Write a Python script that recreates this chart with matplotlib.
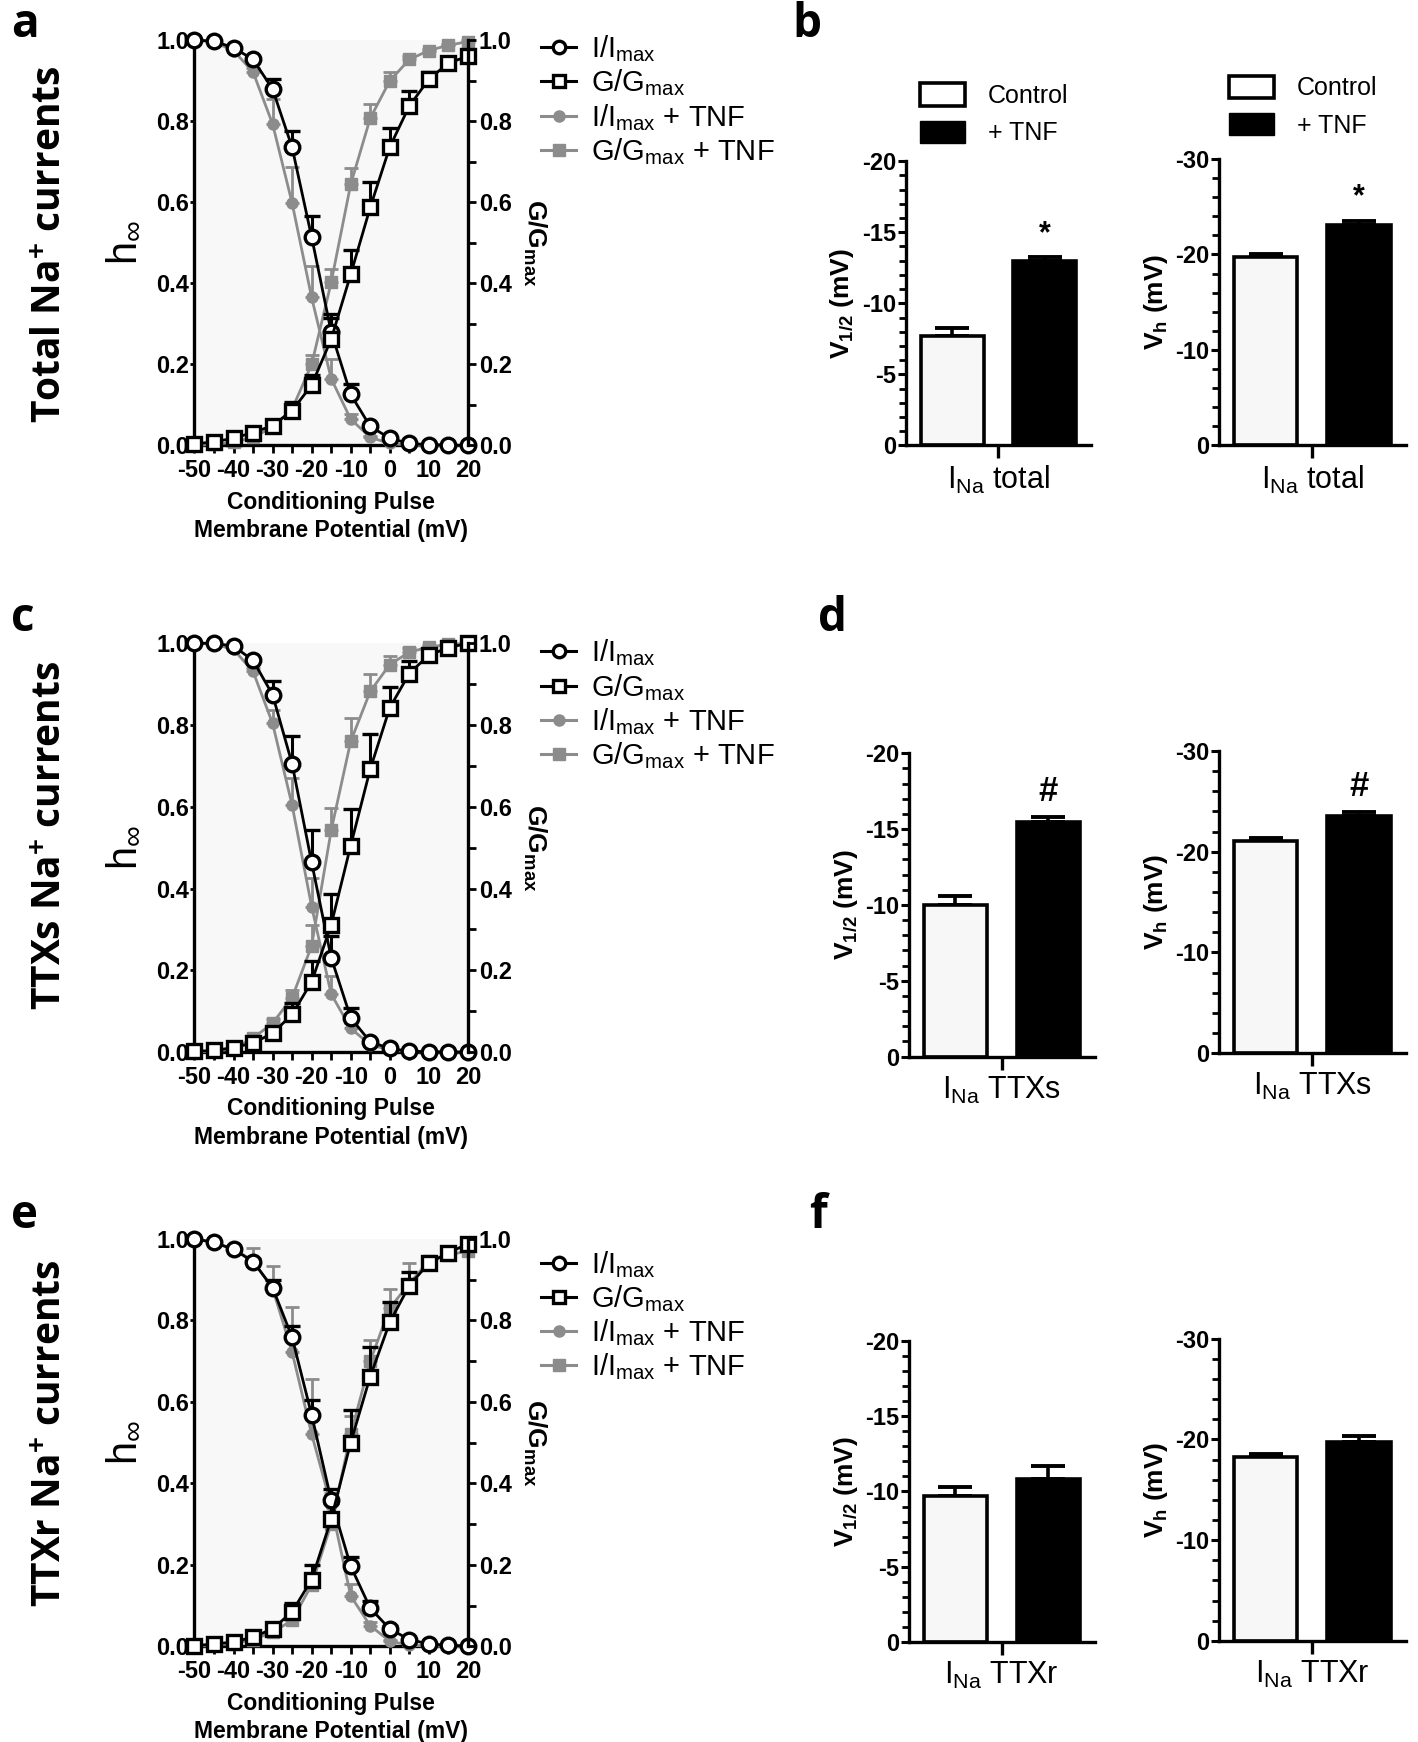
import matplotlib
matplotlib.use("Agg")
import matplotlib.pyplot as plt
from matplotlib.lines import Line2D
from matplotlib.patches import Patch
from matplotlib.ticker import MultipleLocator

plt.rcParams["font.family"] = ["Liberation Sans", "DejaVu Sans"]
plt.rcParams["axes.unicode_minus"] = False
plt.rcParams["mathtext.fontset"] = "custom"
plt.rcParams["mathtext.rm"] = "Liberation Sans"
plt.rcParams["mathtext.it"] = "Liberation Sans:italic"
plt.rcParams["mathtext.bf"] = "Liberation Sans:bold"

# potenciais do pulso condicionante (mV)
volts = [-50, -45, -40, -35, -30, -25, -20, -15, -10, -5, 0, 5, 10, 15, 20]

# painel a - corrente total
a_i_ctl = [1.0, 0.997, 0.981, 0.952, 0.879, 0.735, 0.514, 0.28, 0.126, 0.047, 0.018, 0.005, 0.002, 0.001, 0.0]
a_i_ctl_err = [0, 0, 0, 0.005, 0.026, 0.041, 0.051, 0.035, 0.026, 0.006, 0.003, 0, 0, 0, 0]
a_g_ctl = [0.004, 0.009, 0.018, 0.032, 0.049, 0.086, 0.149, 0.262, 0.422, 0.587, 0.736, 0.837, 0.903, 0.943, 0.960]
a_g_ctl_err = [0, 0, 0, 0.004, 0.008, 0.022, 0.025, 0.063, 0.06, 0.062, 0.046, 0.036, 0.018, 0.01, 0.008]
a_i_tnf = [1.0, 0.995, 0.974, 0.921, 0.793, 0.598, 0.365, 0.165, 0.065, 0.02, 0.005, 0.001, 0, 0, 0]
a_i_tnf_err = [0, 0, 0.005, 0.01, 0.062, 0.09, 0.077, 0.049, 0.012, 0.004, 0.001, 0, 0, 0, 0]
a_g_tnf = [0.0, 0.003, 0.008, 0.02, 0.045, 0.09, 0.20, 0.402, 0.644, 0.807, 0.899, 0.952, 0.974, 0.987, 0.996]
a_g_tnf_err = [0, 0, 0.002, 0.004, 0.008, 0.012, 0.022, 0.034, 0.04, 0.035, 0.022, 0.008, 0.005, 0.004, 0.003]

# painel c - TTXs
c_i_ctl = [1.0, 1.0, 0.993, 0.958, 0.874, 0.705, 0.464, 0.231, 0.084, 0.025, 0.009, 0.002, 0.001, 0.0, 0.0]
c_i_ctl_err = [0, 0, 0, 0.005, 0.033, 0.068, 0.078, 0.053, 0.023, 0.005, 0.002, 0, 0, 0, 0]
c_g_ctl = [0.002, 0.004, 0.011, 0.022, 0.046, 0.092, 0.172, 0.311, 0.505, 0.692, 0.842, 0.926, 0.971, 0.989, 1.0]
c_g_ctl_err = [0, 0, 0.002, 0.004, 0.01, 0.028, 0.05, 0.076, 0.089, 0.086, 0.051, 0.03, 0.01, 0.004, 0]
c_i_tnf = [1.0, 0.998, 0.985, 0.931, 0.804, 0.604, 0.356, 0.142, 0.058, 0.018, 0.005, 0.001, 0, 0, 0]
c_i_tnf_err = [0, 0, 0.003, 0.008, 0.033, 0.067, 0.071, 0.045, 0.012, 0.004, 0.001, 0, 0, 0, 0]
c_g_tnf = [0.0, 0.002, 0.008, 0.034, 0.071, 0.133, 0.26, 0.542, 0.76, 0.882, 0.948, 0.978, 0.991, 0.997, 1.0]
c_g_tnf_err = [0, 0, 0.002, 0.006, 0.01, 0.018, 0.051, 0.054, 0.058, 0.042, 0.021, 0.01, 0.005, 0.002, 0]

# painel e - TTXr
e_i_ctl = [1.0, 0.991, 0.974, 0.944, 0.88, 0.758, 0.568, 0.359, 0.197, 0.094, 0.043, 0.017, 0.006, 0.003, 0.001]
e_i_ctl_err = [0, 0, 0, 0.006, 0.02, 0.028, 0.036, 0.026, 0.023, 0.017, 0.006, 0.002, 0, 0, 0]
e_g_ctl = [0.002, 0.006, 0.011, 0.023, 0.043, 0.085, 0.164, 0.312, 0.50, 0.662, 0.795, 0.885, 0.94, 0.966, 0.987]
e_g_ctl_err = [0, 0, 0.002, 0.004, 0.01, 0.022, 0.037, 0.04, 0.079, 0.073, 0.049, 0.034, 0.012, 0.006, 0.004]
e_i_tnf = [1.0, 0.99, 0.975, 0.946, 0.878, 0.722, 0.521, 0.346, 0.124, 0.051, 0.013, 0.003, 0.001, 0, 0]
e_i_tnf_err = [0, 0.003, 0.01, 0.031, 0.054, 0.111, 0.135, 0.03, 0.03, 0.01, 0.003, 0, 0, 0, 0]
e_g_tnf = [0.0, 0.003, 0.007, 0.017, 0.035, 0.064, 0.151, 0.30, 0.52, 0.70, 0.83, 0.89, 0.945, 0.96, 0.97]
e_g_tnf_err = [0, 0, 0.002, 0.004, 0.006, 0.01, 0.02, 0.03, 0.044, 0.052, 0.046, 0.05, 0.01, 0.005, 0.003]

# barras: [Control, + TNF] e erro
b_v12 = [-7.7, -12.95]
b_v12_err = [0.58, 0.28]
b_vh = [-19.76, -23.13]
b_vh_err = [0.27, 0.37]
d_v12 = [-9.97, -15.44]
d_v12_err = [0.63, 0.34]
d_vh = [-21.04, -23.5]
d_vh_err = [0.34, 0.4]
f_v12 = [-9.7, -10.8]
f_v12_err = [0.6, 0.9]
f_vh = [-18.3, -19.75]
f_vh_err = [0.3, 0.55]

GRAY = "#8c8c8c"
W, H = 1276.0, 1568.0  # coordenadas da imagem de referencia


def rect(x0, y0, x1, y1):
    return [x0 / W, 1 - y1 / H, (x1 - x0) / W, (y1 - y0) / H]


def fx(x):
    return x / W


def fy(y):
    return 1 - y / H


fig = plt.figure(figsize=(14.18, 17.42), dpi=100)

tickfont = dict(family="Liberation Sans", weight="bold", size=17)


def curva(box, i_ctl, i_ce, g_ctl, g_ce, i_tnf, i_te, g_tnf, g_te, leg_xy, leg4):
    ax = fig.add_axes(rect(*box))
    ax.set_facecolor("#f8f8f8")
    zeros = [0] * len(volts)
    for y, e, mk in [(i_tnf, i_te, "o"), (g_tnf, g_te, "s")]:
        ax.errorbar(volts, y, yerr=[zeros, e], color=GRAY, lw=2.0, marker=mk, ms=8,
                    mfc=GRAY, mec=GRAY, capsize=5, capthick=2.0, elinewidth=2.0, clip_on=False, zorder=3)
    for y, e, mk in [(i_ctl, i_ce, "o"), (g_ctl, g_ce, "s")]:
        ax.errorbar(volts, y, yerr=[zeros, e], color="black", lw=2.0, marker=mk, ms=10.5,
                    mfc="white", mec="black", mew=2.4, capsize=5.5, capthick=2.2, elinewidth=2.2,
                    clip_on=False, zorder=4)
    ax.set_xlim(-50, 20)
    ax.set_ylim(0, 1)
    for s in ["top", "right"]:
        ax.spines[s].set_visible(False)
    for s in ["left", "bottom"]:
        ax.spines[s].set_linewidth(2.4)
    ax.set_xticks(range(-50, 21, 10))
    ax.xaxis.set_minor_locator(MultipleLocator(5))
    ax.set_yticks([0, 0.2, 0.4, 0.6, 0.8, 1.0])
    ax.set_yticklabels(["0.0", "0.2", "0.4", "0.6", "0.8", "1.0"])
    ax.tick_params(width=2, length=6, pad=4)
    ax.tick_params(which="minor", width=2, length=6)
    ax.tick_params(axis="y", length=3, pad=1)
    for lb in ax.get_xticklabels() + ax.get_yticklabels():
        lb.set(**tickfont)
    ax.set_xlabel("Conditioning Pulse\nMembrane Potential (mV)", fontsize=16.5, fontweight="bold",
                  labelpad=6, linespacing=1.3)
    ax.set_ylabel(r"h$_{\infty}$", fontsize=30, labelpad=9)

    ax2 = ax.twinx()
    ax2.set_ylim(0, 1)
    for s in ["top", "left", "bottom"]:
        ax2.spines[s].set_visible(False)
    ax2.spines["right"].set_linewidth(2.4)
    ax2.set_yticks([0, 0.2, 0.4, 0.6, 0.8, 1.0])
    ax2.set_yticklabels(["0.0", "0.2", "0.4", "0.6", "0.8", "1.0"])
    ax2.yaxis.set_minor_locator(MultipleLocator(0.1))
    ax2.tick_params(width=2, length=6, pad=2)
    ax2.tick_params(which="minor", width=2, length=6)
    for lb in ax2.get_yticklabels():
        lb.set(**tickfont)
    ax2.set_ylabel(r"$\mathbf{G/G_{max}}$", fontsize=19, rotation=270, labelpad=26)

    handles = [
        Line2D([], [], color="black", lw=2.2, marker="o", ms=9, mfc="white", mew=2.4),
        Line2D([], [], color="black", lw=2.2, marker="s", ms=9, mfc="white", mew=2.4),
        Line2D([], [], color=GRAY, lw=2.2, marker="o", ms=8, mfc=GRAY, mec=GRAY),
        Line2D([], [], color=GRAY, lw=2.2, marker="s", ms=8, mfc=GRAY, mec=GRAY),
    ]
    labels = [r"I/I$_{\mathregular{max}}$", r"G/G$_{\mathregular{max}}$",
              r"I/I$_{\mathregular{max}}$ + TNF", leg4]
    fig.legend(handles, labels, loc="upper left", bbox_to_anchor=(fx(leg_xy[0]), fy(leg_xy[1])),
               frameon=False, fontsize=21, handlelength=1.2, handletextpad=0.5,
               labelspacing=0.12, borderaxespad=0, borderpad=0)
    return ax


def barras(box, vals, errs, ylabel, ymax, major, minor, cat, mark):
    ax = fig.add_axes(rect(*box))
    xs = [0, 1]
    ax.bar(xs, vals, width=0.68, color=["#f7f7f7", "black"], edgecolor="black", linewidth=2.6, zorder=2)
    ax.errorbar(xs, vals, yerr=[errs, [0, 0]], fmt="none", ecolor="black", elinewidth=2.6,
                capsize=12, capthick=2.8, zorder=1)
    ax.set_xlim(-0.5, 1.5)
    ax.set_ylim(0, ymax)
    for s in ["top", "right"]:
        ax.spines[s].set_visible(False)
    for s in ["left", "bottom"]:
        ax.spines[s].set_linewidth(2.4)
    ax.set_xticks([0.5])
    ax.set_xticklabels([cat], fontsize=22)
    ax.yaxis.set_major_locator(MultipleLocator(major))
    ax.yaxis.set_minor_locator(MultipleLocator(minor))
    ax.set_yticklabels([("%d" % t) for t in ax.get_yticks()])
    ax.tick_params(axis="x", width=2.4, length=9, pad=4)
    ax.tick_params(axis="y", width=2.2, length=6, pad=1)
    ax.tick_params(axis="y", which="minor", width=2, length=5)
    for lb in ax.get_yticklabels():
        lb.set(**tickfont)
    ax.set_ylabel(ylabel, fontsize=19, fontweight="bold", labelpad=4)
    if mark:
        ax.text(1, vals[1] - errs[1] - 0.03 * abs(ymax), mark, ha="center", va="bottom",
                fontsize=22 if mark == "*" else 25, fontweight="bold")
    return ax


v12_lab = r"$\mathbf{V}_{\mathregular{1/2}}$ (mV)"
vh_lab = r"$\mathbf{V_h}$ (mV)"

# linha 1
curva((175, 36, 421, 401), a_i_ctl, a_i_ctl_err, a_g_ctl, a_g_ctl_err, a_i_tnf, a_i_tnf_err,
      a_g_tnf, a_g_tnf_err, (487, 30), r"G/G$_{\mathregular{max}}$ + TNF")
barras((815, 145, 982, 401), b_v12, b_v12_err, v12_lab, -20, 5, 1, r"I$_{\mathregular{Na}}$ total", "*")
barras((1097, 143, 1265, 401), b_vh, b_vh_err, vh_lab, -30, 10, 2, r"I$_{\mathregular{Na}}$ total", "*")
leg_h = [Patch(facecolor="white", edgecolor="black", linewidth=2.6), Patch(facecolor="black", edgecolor="black")]
fig.legend(leg_h, ["Control", "+ TNF"], loc="upper left", bbox_to_anchor=(fx(828), fy(75)), frameon=False,
           fontsize=18, handlelength=1.8, handleheight=1.0, handletextpad=0.9, labelspacing=0.5,
           borderaxespad=0, borderpad=0)
fig.legend(leg_h, ["Control", "+ TNF"], loc="upper left", bbox_to_anchor=(fx(1106), fy(68)), frameon=False,
           fontsize=18, handlelength=1.8, handleheight=1.0, handletextpad=0.9, labelspacing=0.5,
           borderaxespad=0, borderpad=0)

# linha 2
curva((175, 579, 421, 947), c_i_ctl, c_i_ctl_err, c_g_ctl, c_g_ctl_err, c_i_tnf, c_i_tnf_err,
      c_g_tnf, c_g_tnf_err, (487, 574), r"G/G$_{\mathregular{max}}$ + TNF")
barras((818, 678, 985, 951), d_v12, d_v12_err, v12_lab, -20, 5, 1, r"I$_{\mathregular{Na}}$ TTXs", "#")
barras((1097, 676, 1265, 948), d_vh, d_vh_err, vh_lab, -30, 10, 2, r"I$_{\mathregular{Na}}$ TTXs", "#")

# linha 3
curva((175, 1115, 421, 1482), e_i_ctl, e_i_ctl_err, e_g_ctl, e_g_ctl_err, e_i_tnf, e_i_tnf_err,
      e_g_tnf, e_g_tnf_err, (487, 1124), r"I/I$_{\mathregular{max}}$ + TNF")
barras((818, 1207, 985, 1478), f_v12, f_v12_err, v12_lab, -20, 5, 1, r"I$_{\mathregular{Na}}$ TTXr", None)
barras((1097, 1205, 1265, 1477), f_vh, f_vh_err, vh_lab, -30, 10, 2, r"I$_{\mathregular{Na}}$ TTXr", None)

# titulos das linhas e letras dos paineis
for yc, t in [(220, "Total Na$^{\\mathbf{+}}$ currents"), (752, "TTXs Na$^{\\mathbf{+}}$ currents"),
              (1290, "TTXr Na$^{\\mathbf{+}}$ currents")]:
    fig.text(fx(45), fy(yc), t, rotation=90, ha="center", va="center", family="Open Sans",
             fontweight="bold", fontsize=28)
for x, y, t in [(10, 22, "a"), (713, 22, "b"), (10, 557, "c"), (736, 557, "d"), (10, 1094, "e"),
                (728, 1094, "f")]:
    fig.text(fx(x), fy(y), t, ha="left", va="center", family="Open Sans", fontweight="bold", fontsize=33)

fig.savefig("out.png", dpi=100, facecolor="white")
